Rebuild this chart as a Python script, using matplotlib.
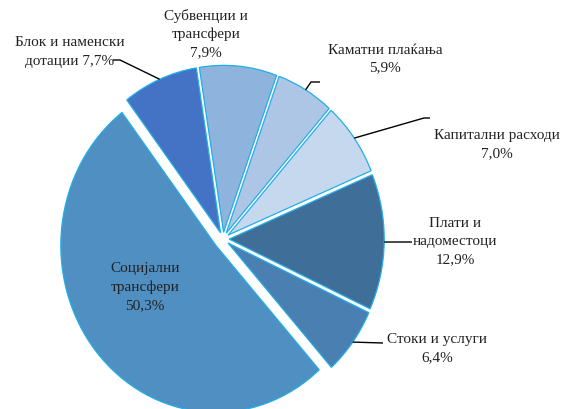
import matplotlib
matplotlib.use("Agg")
import matplotlib.pyplot as plt
import numpy as np

# slices in clockwise order, starting at the top
categories = ["Субвенции и\nтрансфери", "Каматни плаќања", "Капитални расходи",
              "Плати и\nнадоместоци", "Стоки и услуги", "Социјални\nтрансфери",
              "Блок и наменски\nдотации"]
values = [7.9, 5.9, 7.0, 12.9, 6.4, 50.3, 7.7]
pct_labels = ["7,9%", "5,9%", "7,0%", "12,9%", "6,4%", "50,3%", "7,7%"]
colors = ["#8EB3DD", "#ADC6E6", "#C6D8EE", "#3F6E99", "#4A7FB2", "#4F8FC2", "#4472C4"]
explode = [0.04, 0.04, 0.04, 0.04, 0.04, 0.06, 0.04]

# pixel geometry of the reference image
W, H = 569, 410
CX, CY = 223, 240      # pie centre in pixels (from top-left)
SX, SY = 155, 167      # pixels per data unit (the pie is slightly taller than wide)


def px(x, y):
    return (x - CX) / SX, (CY - y) / SY


fig = plt.figure(figsize=(W / 100, H / 100), dpi=100)
ax = fig.add_axes([0, 0, 1, 1])

wedges, _ = ax.pie(values, colors=colors, startangle=99, counterclock=False,
                   explode=explode,
                   wedgeprops=dict(edgecolor="#22AEE8", linewidth=0.9))
ax.set_aspect("auto")
ax.set_xlim(-CX / SX, (W - CX) / SX)
ax.set_ylim(-(H - CY) / SY, CY / SY)
ax.axis("off")

font = dict(family="Liberation Serif", fontsize=11, color="#222222",
            ha="center", va="center", linespacing=1.5)


def edge_point(w):
    a = np.deg2rad((w.theta1 + w.theta2) / 2)
    return w.center[0] + w.r * np.cos(a), w.center[1] + w.r * np.sin(a)


# label text positions (pixels) and leader-line bends
label_pos = {
    0: (206, 34),
    1: (385, 59),
    2: (497, 145),
    3: (455, 242),
    4: (437, 349),
    5: (145, 287),
    6: (70, 52),
}
leaders = {
    1: [(320, 83), (311, 83)],
    2: [(430, 119), (424, 119)],
    3: [(412, 243)],
    4: [(383, 344)],
    6: [(113, 61), (120, 61)],
}

for i, (cat, pct) in enumerate(zip(categories, pct_labels)):
    if i == 6:
        txt = "Блок и наменски\nдотации " + pct
    else:
        txt = cat + "\n" + pct
    ax.text(*px(*label_pos[i]), txt, **font)
    if i in leaders:
        pts = [px(*p) for p in leaders[i]] + [edge_point(wedges[i])]
        xs, ys = zip(*pts)
        ax.plot(xs, ys, color="black", linewidth=1.0, solid_capstyle="butt")

fig.savefig("out.png", dpi=100)
